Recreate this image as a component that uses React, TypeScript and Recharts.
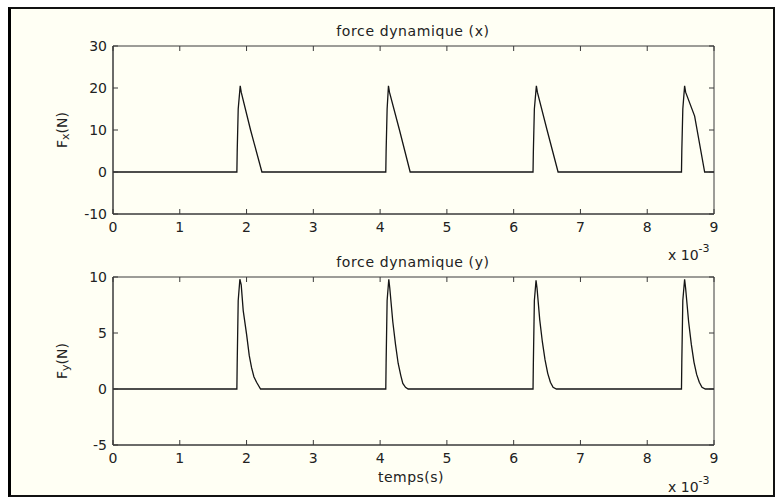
import React from "react";
import { LineChart, Line, XAxis, YAxis, ReferenceArea } from "recharts";

// temps en ms (axe affiché "x 10^-3")
const timeX = [
  0, 1.855, 1.86, 1.875, 1.905, 1.92, 2.06, 2.23,
  4.085, 4.09, 4.105, 4.125, 4.14, 4.29, 4.45,
  6.29, 6.295, 6.31, 6.34, 6.355, 6.5, 6.665,
  8.513, 8.518, 8.533, 8.56, 8.575, 8.71, 8.86, 9,
];
const forceX = [
  0, 0, 5, 15, 20.5, 19, 10, 0,
  0, 5, 15, 20.5, 19, 10, 0,
  0, 5, 15, 20.5, 19, 10, 0,
  0, 5, 15, 20.5, 19, 13.3, 0, 0,
];

const timeY = [
  0, 1.855, 1.86, 1.875, 1.9, 1.92, 1.95, 2.0, 2.04, 2.075, 2.11, 2.15, 2.21,
  4.085, 4.09, 4.105, 4.13, 4.145, 4.19, 4.23, 4.27, 4.31, 4.34, 4.38, 4.42,
  6.29, 6.295, 6.31, 6.335, 6.35, 6.39, 6.43, 6.47, 6.51, 6.55, 6.59, 6.64,
  8.513, 8.518, 8.533, 8.56, 8.575, 8.62, 8.66, 8.7, 8.74, 8.78, 8.82, 8.87, 9,
];
const forceY = [
  0, 0, 2.4, 7.9, 9.8, 9.3, 7.0, 4.9, 3.0, 1.9, 1.1, 0.6, 0,
  0, 2.4, 7.9, 9.8, 9.0, 6.0, 4.0, 2.3, 1.2, 0.5, 0.15, 0,
  0, 2.4, 7.9, 9.7, 9.0, 6.2, 4.2, 2.6, 1.4, 0.6, 0.15, 0,
  0, 2.4, 7.9, 9.8, 9.0, 6.0, 4.0, 2.4, 1.3, 0.6, 0.15, 0, 0,
];

const timeTicks = [0, 1, 2, 3, 4, 5, 6, 7, 8, 9];
const fxTicks = [-10, 0, 10, 20, 30];
const fyTicks = [-5, 0, 5, 10];

const dataX = timeX.map((t, i) => ({ t, f: forceX[i] }));
const dataY = timeY.map((t, i) => ({ t, f: forceY[i] }));

const FONT = "DejaVu Sans";
const INK = "#222";
const AXIS = "#3a3a3a";
const W = 777;
const ML = 73;
const YW = 40;
const MR = 63;
const XM = 8; // écart axe x -> libellés
const YM = 6; // écart axe y -> libellés
const TL = 5; // longueur des graduations (vers l'intérieur)

const yLabel = (sub: string) => (props: any) => {
  const { viewBox } = props;
  const cx = 62;
  const cy = viewBox.y + viewBox.height / 2;
  return (
    <text
      x={cx}
      y={cy}
      transform={`rotate(-90 ${cx} ${cy})`}
      textAnchor="middle"
      dominantBaseline="central"
      fill={INK}
      fontSize={14}
      fontFamily={FONT}
    >
      F
      <tspan fontSize={11} dy={3}>
        {sub}
      </tspan>
      <tspan dy={-3}>(N)</tspan>
    </text>
  );
};

// graduation x : en bas et en haut du cadre, libellé dessous
const xTick = (plotTop: number) => (props: any) => {
  const { x, y, payload } = props;
  const axisY = y - XM;
  return (
    <g>
      <line x1={x} y1={axisY} x2={x} y2={axisY - TL} stroke={AXIS} />
      <line x1={x} y1={plotTop} x2={x} y2={plotTop + TL} stroke={AXIS} />
      <text x={x} y={y} dy="0.71em" textAnchor="middle" fill={INK} fontSize={14} fontFamily={FONT}>
        {payload.value}
      </text>
    </g>
  );
};

// graduation y : à gauche et à droite du cadre
const yTick = (plotRight: number) => (props: any) => {
  const { x, y, payload } = props;
  const axisX = x + YM;
  return (
    <g>
      <line x1={axisX} y1={y} x2={axisX + TL} y2={y} stroke={AXIS} />
      <line x1={plotRight} y1={y} x2={plotRight - TL} y2={y} stroke={AXIS} />
      <text x={x} y={y} dy="0.355em" textAnchor="end" fill={INK} fontSize={14} fontFamily={FONT}>
        {payload.value}
      </text>
    </g>
  );
};

const Panel = ({
  data,
  ticks,
  domain,
  sub,
  top,
  bottom,
  height,
}: {
  data: any[];
  ticks: number[];
  domain: [number, number];
  sub: string;
  top: number;
  bottom: number;
  height: number;
}) => (
  <LineChart
    width={W}
    height={height}
    data={data}
    margin={{ top, right: MR, bottom, left: ML }}
    style={{ position: "absolute", left: 0, top: 0 }}
  >
    <XAxis
      dataKey="t"
      type="number"
      domain={[0, 9]}
      ticks={timeTicks}
      allowDataOverflow
      height={30}
      tickSize={0}
      tickLine={false}
      tickMargin={XM}
      tick={xTick(top)}
      stroke={AXIS}
    />
    <YAxis
      type="number"
      domain={domain}
      ticks={ticks}
      width={YW}
      tickSize={0}
      tickLine={false}
      tickMargin={YM}
      tick={yTick(W - MR)}
      stroke={AXIS}
      label={{ content: yLabel(sub) }}
    />
    <ReferenceArea
      x1={0}
      x2={9}
      y1={domain[0]}
      y2={domain[1]}
      fill="none"
      stroke={AXIS}
      strokeWidth={1}
      ifOverflow="visible"
    />
    <Line
      dataKey="f"
      type="linear"
      stroke="#151515"
      strokeWidth={1.3}
      dot={false}
      isAnimationActive={false}
    />
  </LineChart>
);

const txt = { fill: INK, fontFamily: FONT, fontSize: 14 } as const;

export default function App() {
  return (
    <div
      style={{
        position: "fixed",
        left: 0,
        top: 0,
        width: W,
        height: 497,
        background: "#ffffff",
        overflow: "hidden",
      }}
    >
      <div
        style={{
          position: "absolute",
          left: 8,
          top: 7,
          width: 762,
          height: 486,
          background: "#fffff4",
          borderLeft: "3px solid #000",
          borderTop: "2px solid #111",
          borderRight: "2px solid #111",
          borderBottom: "2px solid #111",
        }}
      />
      <Panel data={dataX} ticks={fxTicks} domain={[-10, 30]} sub="x" top={46} bottom={16} height={260} />
      <Panel data={dataY} ticks={fyTicks} domain={[-5, 10]} sub="y" top={277} bottom={22} height={497} />
      <svg width={W} height={497} style={{ position: "absolute", left: 0, top: 0, pointerEvents: "none" }}>
        <text x={413} y={36} textAnchor="middle" letterSpacing={0.6} {...txt}>
          force dynamique (x)
        </text>
        <text x={413} y={267} textAnchor="middle" letterSpacing={0.6} {...txt}>
          force dynamique (y)
        </text>
        <text x={411} y={482} textAnchor="middle" letterSpacing={0.5} {...txt}>
          temps(s)
        </text>
        <text x={668} y={260} {...txt}>
          x 10
          <tspan fontSize={11} dy={-8}>
            -3
          </tspan>
        </text>
        <text x={668} y={492} {...txt}>
          x 10
          <tspan fontSize={11} dy={-8}>
            -3
          </tspan>
        </text>
      </svg>
    </div>
  );
}
